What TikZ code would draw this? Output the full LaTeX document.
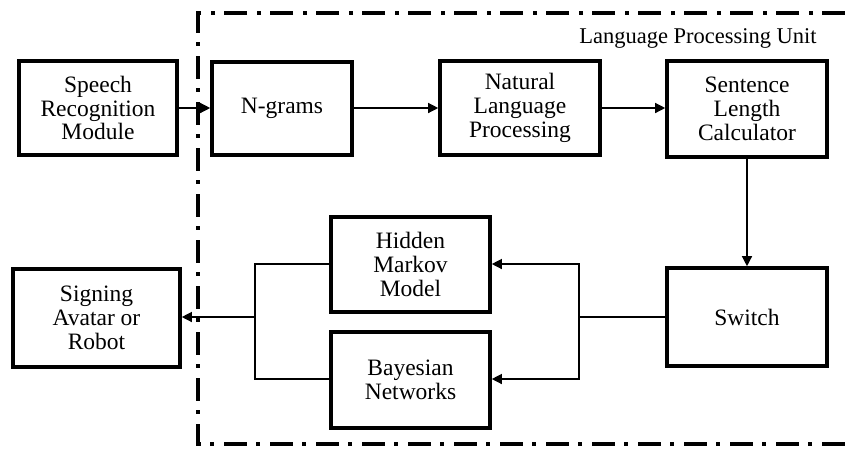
\documentclass[tikz,border=0pt]{standalone}
\usepackage{fontspec}
\setmainfont{Liberation Serif}
\usetikzlibrary{arrows.meta}
\begin{document}
\begin{tikzpicture}[x=1pt,y=-1pt,
  box/.style={draw,line width=3.6pt,inner sep=0pt,align=center,
    font=\fontsize{23.5}{23.8}\selectfont},
  conn/.style={line width=1.3pt},
  arr/.style={conn,-{Triangle[length=10pt,width=10pt]}},
  unit/.style={line width=3.6pt,dash pattern=on 23pt off 9pt on 4pt off 10pt}]
\useasboundingbox (0,0) rectangle (845,448);
\draw[unit] (845,13) -- (198,13) -- (198,444) -- (845,444);
\node[font=\fontsize{22.5}{24}\selectfont] (lpu) at (698,38) {Language Processing Unit};
\node[box,minimum width=158pt,minimum height=94pt] (srm) at (98,108) {Speech\\Recognition\\Module};
\node[box,minimum width=140pt,minimum height=93pt] (ngr) at (282,108.5) {N-grams};
\node[box,minimum width=160pt,minimum height=94pt] (nlp) at (520,108) {Natural\\Language\\Processing};
\node[box,minimum width=160pt,minimum height=96pt] (slc) at (747,109) {Sentence\\Length\\Calculator};
\node[box,minimum width=160pt,minimum height=98pt] (sw) at (747,317) {Switch};
\node[box,minimum width=159pt,minimum height=95pt] (hmm) at (410.5,264.5) {Hidden\\Markov\\Model};
\node[box,minimum width=159pt,minimum height=96pt] (bn) at (410.5,380) {Bayesian\\Networks};
\node[box,minimum width=167pt,minimum height=98pt] (sa) at (96.5,318) {Signing\\Avatar or\\Robot};
\coordinate (rf) at (579,317);
\coordinate (lf) at (255,317);
\draw[arr] (srm.east |- 0,108) -- (ngr.west |- 0,108);
\draw[arr] (ngr.east |- 0,108) -- (nlp.west |- 0,108);
\draw[arr] (nlp.east |- 0,108) -- (slc.west |- 0,108);
\draw[arr] (slc.south) -- (sw.north);
\draw[conn] (sw.west) -- (rf);
\draw[arr] (rf) |- (hmm.east |- 0,264);
\draw[arr] (rf) |- (bn.east |- 0,379);
\draw[conn] (hmm.west |- 0,264) -| (lf);
\draw[conn] (bn.west |- 0,379) -| (lf);
\draw[arr] (lf) -- (sa.east |- lf);
\end{tikzpicture}
\end{document}
